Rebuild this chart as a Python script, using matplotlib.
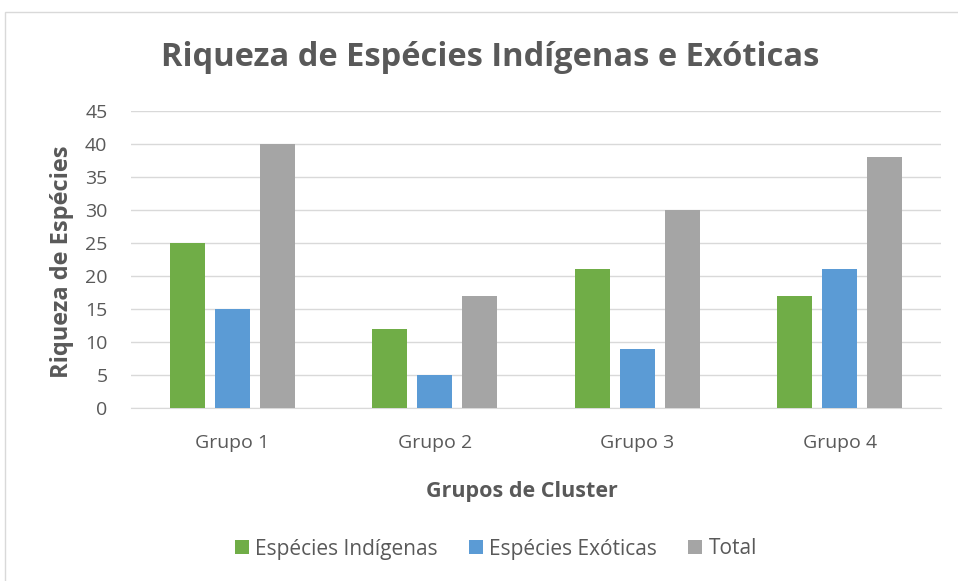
import matplotlib
matplotlib.use("Agg")
import matplotlib.pyplot as plt
import numpy as np
from matplotlib.patches import Rectangle

categories = ["Grupo 1", "Grupo 2", "Grupo 3", "Grupo 4"]
series_names = ["Espécies Indígenas", "Espécies Exóticas", "Total"]
indigenas = [25, 12, 21, 17]
exoticas = [15, 5, 9, 21]
total = [40, 17, 30, 38]
yticks = [0, 5, 10, 15, 20, 25, 30, 35, 40, 45]

colors = ["#70AD47", "#5B9BD5", "#A5A5A5"]
txt = "#595959"
plt.rcParams['font.family'] = ['Open Sans', 'DejaVu Sans']

fig = plt.figure(figsize=(9.58, 5.81), dpi=100)
fig.patches.append(Rectangle((5/958, -0.1), 1.1, 1 - 12/581 + 0.1, transform=fig.transFigure,
                             fill=False, edgecolor="#D9D9D9", linewidth=1.0))
ax = fig.add_axes([131/958, 1 - 408/581, 810/958, 297/581])

x = np.arange(len(categories))
w = 0.173
step = 0.222
for i, (vals, name) in enumerate(zip([indigenas, exoticas, total], series_names)):
    ax.bar(x + (i - 1) * step, vals, width=w, color=colors[i], label=name, zorder=3)

ax.set_xlim(-0.5, 3.5)
ax.set_ylim(0, 45)
ax.set_yticks(yticks)
ax.set_xticks(x)
ax.set_xticklabels(categories)
ax.grid(axis='y', color="#D9D9D9", linewidth=1.0, zorder=0)
for s in ["top", "right", "left"]:
    ax.spines[s].set_visible(False)
ax.spines["bottom"].set_color("#D9D9D9")
ax.tick_params(axis='both', length=0, colors=txt, labelsize=14)
ax.tick_params(axis='x', pad=19)
ax.tick_params(axis='y', pad=17)

fig.text(490/958, 1 - 57/581, "Riqueza de Espécies Indígenas e Exóticas", ha="center", va="center",
         fontsize=23.5, fontweight="bold", color=txt)
fig.text(62/958, 1 - 262/581, "Riqueza de Espécies", ha="center", va="center", rotation=90,
         fontsize=17, fontweight="bold", color=txt)
fig.text(522/958, 1 - 491/581, "Grupos de Cluster", ha="center", va="center",
         fontsize=15.5, fontweight="bold", color=txt)

leg = fig.legend(loc="center", bbox_to_anchor=(496/958, 1 - 549/581), ncol=3, frameon=False,
                 fontsize=15, handlelength=0.67, handleheight=0.67, handletextpad=0.3, columnspacing=1.5)
for t in leg.get_texts():
    t.set_color(txt)

fig.savefig("out.png", dpi=100)
